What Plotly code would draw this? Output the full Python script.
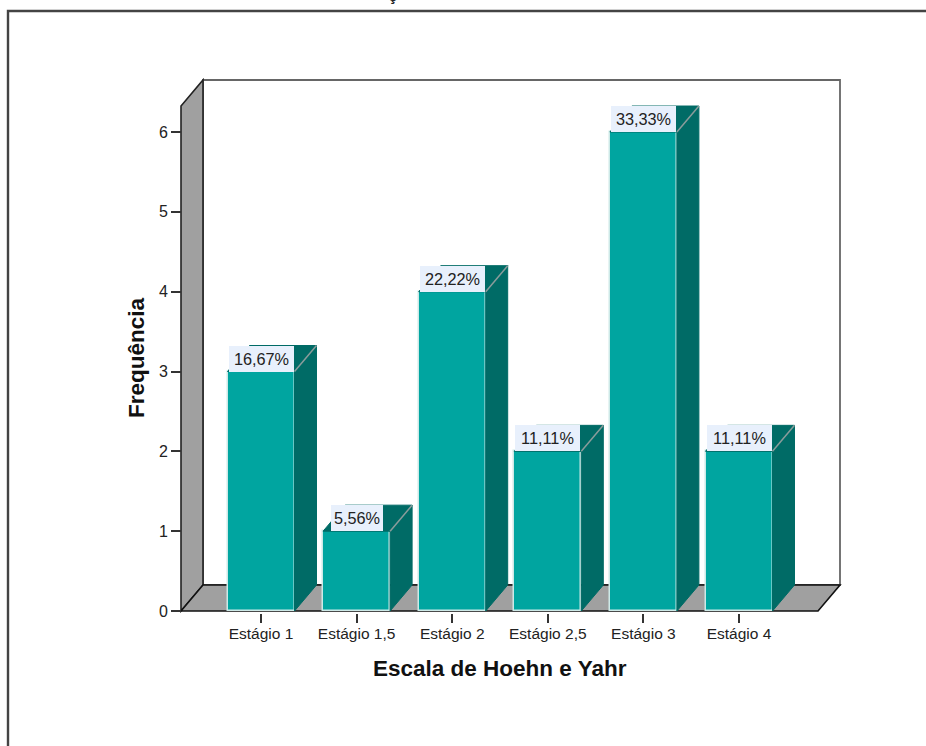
import plotly.graph_objects as go

categories = ["Estágio 1", "Estágio 1,5", "Estágio 2", "Estágio 2,5", "Estágio 3", "Estágio 4"]
frequencies = [3, 1, 4, 2, 6, 2]
percent_labels = ["16,67%", "5,56%", "22,22%", "11,11%", "33,33%", "11,11%"]
y_ticks = [0, 1, 2, 3, 4, 5, 6]
x_title = "Escala de Hoehn e Yahr"
y_title = "Frequência"

W, H = 926, 746
PX_CAT0, PX_CAT_STEP = 261.0, 95.6
PX_Y0, PX_UNIT = 611.0, 79.83
FRONT_FACE = "#00A5A0"
DARK_FACE = "#006B66"
EDGE = "#CDE9E7"
WALL = "#A0A0A0"
LABEL_BG = "#E8F0FC"
TXT = "#222222"
FONT = "Liberation Sans"

x_rng = [(0 - PX_CAT0) / PX_CAT_STEP, (W - PX_CAT0) / PX_CAT_STEP]
y_rng = [(PX_Y0 - H) / PX_UNIT, PX_Y0 / PX_UNIT]
DX, DY = 22 / PX_CAT_STEP, 26 / PX_UNIT
BAR_W = 67 / PX_CAT_STEP
FX0, FX1 = (181 - PX_CAT0) / PX_CAT_STEP, (818 - PX_CAT0) / PX_CAT_STEP
TOP_BACK = (PX_Y0 - 80) / PX_UNIT


def poly(pts):
    return "M " + " L ".join(f"{x},{y}" for x, y in pts) + " Z"


shapes = [
    # outer frame
    dict(type="path", xref="paper", yref="paper", layer="below",
         path=poly([(8 / W, -0.1), (8 / W, 1 - 11 / H), (1.1, 1 - 11 / H), (1.1, -0.1)]),
         line=dict(color="#444444", width=2.4), fillcolor="white"),
    # back wall
    dict(type="path", layer="below",
         path=poly([(FX0 + DX, DY), (FX0 + DX, TOP_BACK), (FX1 + DX, TOP_BACK), (FX1 + DX, DY)]),
         line=dict(color="#666666", width=1.8), fillcolor="white"),
    # left wall
    dict(type="path", layer="below",
         path=poly([(FX0, 0), (FX0 + DX, DY), (FX0 + DX, TOP_BACK), (FX0, TOP_BACK - DY)]),
         line=dict(color="#222222", width=1.6), fillcolor=WALL),
    # floor
    dict(type="path", layer="below",
         path=poly([(FX0, 0), (FX0 + DX, DY), (FX1 + DX, DY), (FX1, 0)]),
         line=dict(color="#111111", width=1.6), fillcolor=WALL),
]

fig = go.Figure()
xs = list(range(len(categories)))

fig.add_bar(x=xs, y=frequencies, width=BAR_W, marker=dict(color=FRONT_FACE, line=dict(color=EDGE, width=1.5)),
            hoverinfo="skip", showlegend=False)

for x, v in zip(xs, frequencies):
    l, r = x - BAR_W / 2, x + BAR_W / 2
    # side face
    fig.add_scatter(x=[r, r + DX, r + DX, r, r], y=[0, DY, v + DY, v, 0], mode="lines", fill="toself",
                    fillcolor=DARK_FACE, line=dict(color=DARK_FACE, width=1), hoverinfo="skip", showlegend=False)
    # top face
    fig.add_scatter(x=[l, l + DX, r + DX, r, l], y=[v, v + DY, v + DY, v, v], mode="lines", fill="toself",
                    fillcolor=DARK_FACE, line=dict(color=DARK_FACE, width=1), hoverinfo="skip", showlegend=False)
    # edges of the block
    fig.add_scatter(x=[r, r + DX], y=[v, v + DY], mode="lines", line=dict(color="#8A9C9B", width=1.5),
                    hoverinfo="skip", showlegend=False)

annotations = [
    dict(x=x, y=v, xref="x", yref="y", text=t, showarrow=False, yanchor="bottom", xanchor="center",
         bgcolor=LABEL_BG, font=dict(family=FONT, size=16.3, color=TXT),
         width=(52 if len(t) == 5 else 65), height=26, borderpad=0, borderwidth=0)
    for x, v, t in zip(xs, frequencies, percent_labels)
]
annotations += [
    dict(xref="paper", yref="paper", x=392 / W, y=1 + 4 / H, yanchor="middle", text="<b>ç</b>",
         showarrow=False, font=dict(family=FONT, size=17, color=TXT)),
    dict(xref="paper", yref="paper", x=499.5 / W, y=1 - 668 / H, yanchor="middle", xanchor="center",
         text=f"<b>{x_title}</b>", showarrow=False, font=dict(family=FONT, size=22.5, color="#111111")),
    dict(xref="paper", yref="paper", x=136 / W, y=1 - 358 / H, yanchor="middle", xanchor="center",
         text=f"<b>{y_title}</b>", textangle=-90, showarrow=False,
         font=dict(family=FONT, size=22.5, color="#111111")),
]

fig.update_layout(
    width=W, height=H, margin=dict(l=0, r=0, t=0, b=0), paper_bgcolor="white", plot_bgcolor="rgba(0,0,0,0)",
    font=dict(family=FONT, color=TXT), bargap=0, shapes=shapes, annotations=annotations, showlegend=False,
    xaxis=dict(range=x_rng, tickmode="array", tickvals=xs, ticktext=categories, anchor="free",
               position=(H - PX_Y0 - 2) / H, showgrid=False, zeroline=False, showline=False, ticks="outside",
               ticklen=9, tickwidth=1.5, tickcolor="#333333", tickfont=dict(size=15.5, color=TXT),
               ticklabelstandoff=-3),
    yaxis=dict(range=y_rng, tickmode="array", tickvals=y_ticks, anchor="free", position=181 / W,
               showgrid=False, zeroline=False, showline=False, ticks="outside", ticklen=10, tickwidth=1.5,
               tickcolor="#333333", tickfont=dict(size=16, color=TXT)),
)

fig.write_html("out.html", config=dict(displayModeBar=False), post_script="document.body.style.margin='0';")
